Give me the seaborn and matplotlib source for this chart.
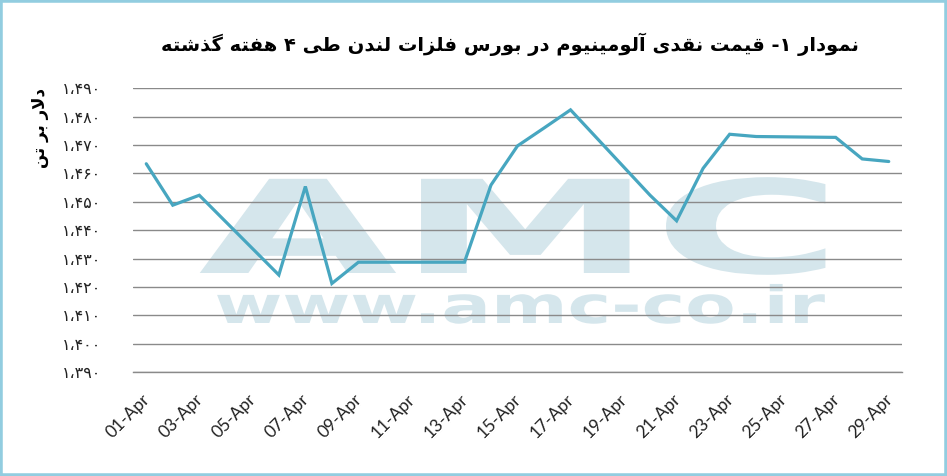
import numpy as np
import pandas as pd
import matplotlib
matplotlib.use("Agg")
import matplotlib.pyplot as plt
import seaborn as sns
from matplotlib.patheffects import AbstractPathEffect
from matplotlib.transforms import Affine2D, ScaledTranslation
from matplotlib.patches import Rectangle

# ---------------- data ----------------
dates = ["2020-04-01", "2020-04-02", "2020-04-03", "2020-04-06", "2020-04-07",
         "2020-04-08", "2020-04-09", "2020-04-10", "2020-04-13", "2020-04-14",
         "2020-04-15", "2020-04-16", "2020-04-17", "2020-04-20", "2020-04-21",
         "2020-04-22", "2020-04-23", "2020-04-24", "2020-04-27", "2020-04-28",
         "2020-04-29"]
prices = [1463.4, 1448.8, 1452.3, 1424.2, 1455.4,
          1421.2, 1428.7, 1428.7, 1428.7, 1455.9,
          1469.7, 1476.0, 1482.4, 1452.3, 1443.3,
          1461.8, 1473.8, 1473.0, 1472.7, 1465.1,
          1464.2]

ytick_values = [1390, 1400, 1410, 1420, 1430, 1440, 1450, 1460, 1470, 1480, 1490]
ytick_labels = ["۱،۳۹۰", "۱،۴۰۰", "۱،۴۱۰", "۱،۴۲۰", "۱،۴۳۰", "۱،۴۴۰",
                "۱،۴۵۰", "۱،۴۶۰", "۱،۴۷۰", "۱،۴۸۰", "۱،۴۹۰"]
xtick_dates = ["2020-04-01", "2020-04-03", "2020-04-05", "2020-04-07", "2020-04-09",
               "2020-04-11", "2020-04-13", "2020-04-15", "2020-04-17", "2020-04-19",
               "2020-04-21", "2020-04-23", "2020-04-25", "2020-04-27", "2020-04-29"]
xtick_labels = ["01-Apr", "03-Apr", "05-Apr", "07-Apr", "09-Apr", "11-Apr", "13-Apr",
                "15-Apr", "17-Apr", "19-Apr", "21-Apr", "23-Apr", "25-Apr", "27-Apr",
                "29-Apr"]
title_text = "نمودار ۱- قیمت نقدی آلومینیوم در بورس فلزات لندن طی ۴ هفته گذشته"
ylabel_text = "دلار بر تن"
watermark_big = "AMC"
watermark_small = "www.amc-co.ir"

# ---------------- minimal Persian shaping (matplotlib has no shaping/bidi) ----------------
FORMS = {
    'ا': ('\uFE8D', '\uFE8E', None, None),
    'آ': ('\uFE81', '\uFE82', None, None),
    'ب': ('\uFE8F', '\uFE90', '\uFE91', '\uFE92'),
    'ت': ('\uFE95', '\uFE96', '\uFE97', '\uFE98'),
    'د': ('\uFEA9', '\uFEAA', None, None),
    'ذ': ('\uFEAB', '\uFEAC', None, None),
    'ر': ('\uFEAD', '\uFEAE', None, None),
    'ز': ('\uFEAF', '\uFEB0', None, None),
    'س': ('\uFEB1', '\uFEB2', '\uFEB3', '\uFEB4'),
    'ش': ('\uFEB5', '\uFEB6', '\uFEB7', '\uFEB8'),
    'ط': ('\uFEC1', '\uFEC2', '\uFEC3', '\uFEC4'),
    'ف': ('\uFED1', '\uFED2', '\uFED3', '\uFED4'),
    'ق': ('\uFED5', '\uFED6', '\uFED7', '\uFED8'),
    'ل': ('\uFEDD', '\uFEDE', '\uFEDF', '\uFEE0'),
    'م': ('\uFEE1', '\uFEE2', '\uFEE3', '\uFEE4'),
    'ن': ('\uFEE5', '\uFEE6', '\uFEE7', '\uFEE8'),
    'ه': ('\uFEE9', '\uFEEA', '\uFEEB', '\uFEEC'),
    'و': ('\uFEED', '\uFEEE', None, None),
    'ی': ('\uFEEF', '\uFEF0', '\uFEF3', '\uFEF4'),
    'گ': ('\uFB92', '\uFB93', '\uFB94', '\uFB95'),
}
LAM_ALEF = {'ا': ('\uFEFB', '\uFEFC'), 'آ': ('\uFEF5', '\uFEF6')}


def shape(text):
    chars = list(text)
    n = len(chars)

    def dual(c):
        return c in FORMS and FORMS[c][2] is not None

    out = []
    i = 0
    while i < n:
        c = chars[i]
        if c not in FORMS:
            out.append(c)
            i += 1
            continue
        prev_join = i > 0 and dual(chars[i - 1])
        if c == 'ل' and i + 1 < n and chars[i + 1] in LAM_ALEF:
            out.append(LAM_ALEF[chars[i + 1]][1 if prev_join else 0])
            i += 2
            continue
        next_join = dual(c) and i + 1 < n and chars[i + 1] in FORMS
        iso, fin, ini, med = FORMS[c]
        if prev_join and next_join:
            out.append(med)
        elif prev_join:
            out.append(fin)
        elif next_join:
            out.append(ini)
        else:
            out.append(iso)
        i += 1
    return ''.join(out)[::-1]


class StretchX(AbstractPathEffect):
    """Stretch text horizontally about a fixed display x."""
    def __init__(self, sx, cx_func):
        super().__init__()
        self.sx = sx
        self.cx_func = cx_func

    def draw_path(self, renderer, gc, tpath, affine, rgbFace=None):
        cx = self.cx_func()
        t = affine + Affine2D().translate(-cx, 0).scale(self.sx, 1).translate(cx, 0)
        renderer.draw_path(gc, tpath, t, rgbFace)


# ---------------- figure ----------------
sns.set_style("white")
plt.rcParams['font.family'] = ['DejaVu Sans']

W, H = 947, 476
fig = plt.figure(figsize=(W / 100, H / 100), dpi=100)
fig.patch.set_facecolor("white")
ax = fig.add_axes([133 / W, 1 - 372 / H, (902 - 133) / W, (372 - 88.3) / H])
ax.set_facecolor("none")

df = pd.DataFrame({"date": pd.to_datetime(dates) + pd.Timedelta(hours=12), "price": prices})
sns.lineplot(data=df, x="date", y="price", ax=ax, color="#47a6c0", linewidth=2.3,
             zorder=3, solid_joinstyle="miter")

ax.set_xlim(pd.Timestamp("2020-04-01"), pd.Timestamp("2020-04-30"))
ax.set_ylim(1390, 1490)
ax.set_yticks(ytick_values)
ax.set_yticklabels(ytick_labels, fontsize=11.5, color="#222222")
ax.set_xticks(pd.to_datetime(xtick_dates))
ax.set_xticklabels(xtick_labels, fontsize=12.5, family="Lato", rotation=45,
                   ha="right", rotation_mode="anchor", color="#222222")
ax.set_xlabel("")
ax.set_ylabel("")

ax.set_axisbelow(True)
ax.yaxis.grid(True, color="#8a8a8a", linewidth=1.0)
ax.xaxis.grid(False)
for s in ["left", "right", "top"]:
    ax.spines[s].set_visible(False)
ax.spines["bottom"].set_color("#8a8a8a")
ax.spines["bottom"].set_linewidth(1.0)
ax.tick_params(axis="y", length=0, pad=23)
ax.tick_params(axis="x", length=5, width=1.0, color="#8a8a8a", direction="out", pad=9)

# shift x tick labels slightly right like the reference
off = ScaledTranslation(9 / 100, 0, fig.dpi_scale_trans)
for lab in ax.get_xticklabels():
    lab.set_transform(lab.get_transform() + off)

# watermark (behind axes, grid and line)
wm_color = "#d5e6ec"
cx_big = 520 / W
t1 = fig.text(cx_big, 1 - 273 / H, watermark_big, ha="center", va="baseline",
              fontsize=93, fontweight="bold", color=wm_color, zorder=-1)
t1.set_path_effects([StretchX(1.99, lambda: cx_big * fig.bbox.width)])
cx_small = 520 / W
t2 = fig.text(cx_small, 1 - 323 / H, watermark_small, ha="center", va="baseline",
              fontsize=37, fontweight="bold", color=wm_color, zorder=-1)
t2.set_path_effects([StretchX(1.43, lambda: cx_small * fig.bbox.width)])

# title & y label
fig.text(510 / W, 1 - 44 / H, shape(title_text), ha="center", va="center",
         fontsize=14, fontweight="bold", color="black")
fig.text(40 / W, 1 - 128 / H, shape(ylabel_text), ha="center", va="center",
         rotation=90, fontsize=12, fontweight="bold", color="black")

# light blue frame
fig.patches.append(Rectangle((0, 0), 1, 1, transform=fig.transFigure, fill=False,
                             edgecolor="#92cde0", linewidth=4, zorder=10))

fig.savefig("out.png", dpi=100, facecolor="white")
